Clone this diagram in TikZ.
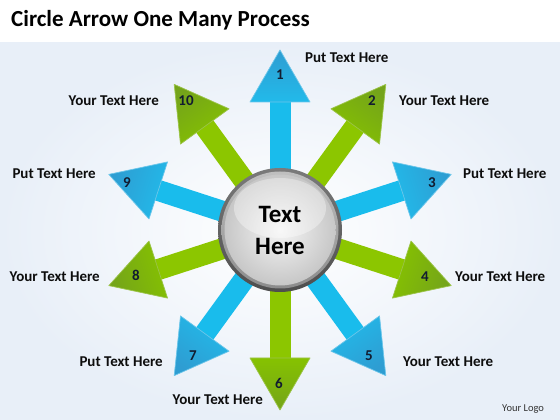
\documentclass[tikz,border=0pt]{standalone}
\usepackage{fontspec}
\setmainfont{Carlito}
\usetikzlibrary{calc,shadings}
\definecolor{cymd}{HTML}{19BCEC}
\definecolor{cylt}{HTML}{22BAEA}
\definecolor{cydk}{HTML}{2E9DD2}
\definecolor{cyln}{HTML}{6CC6EA}
\definecolor{grmd}{HTML}{8CC600}
\definecolor{grlt}{HTML}{86C200}
\definecolor{grdk}{HTML}{74A41A}
\definecolor{grln}{HTML}{9CC44A}
\definecolor{bgblue}{HTML}{E8EFF8}
\definecolor{numcol}{HTML}{121C30}
\definecolor{labelcol}{HTML}{0D0D0D}
\definecolor{ringdk}{HTML}{4E4E4E}
\definecolor{ringmd}{HTML}{7A7A7A}
\begin{document}
\begin{tikzpicture}[x=1pt,y=1pt,
  labeltext/.style={font=\bfseries\fontsize{15}{18}\selectfont, text=labelcol, inner sep=0pt},
  numtext/.style={font=\bfseries\fontsize{15}{18}\selectfont, text=numcol, inner sep=0pt},
]
\useasboundingbox (0,0) rectangle (560,420);
\fill[white] (0,0) rectangle (560,420);
\shade[inner color=white, outer color=bgblue] (0,0) rectangle (560,377);
\node[anchor=base west, font=\bfseries\fontsize{23}{28}\selectfont, inner sep=0pt] (title) at (11,393) {Circle Arrow One Many Process};
\coordinate (C) at (280,190);
% arrows
\foreach \k/\a/\c in {1/90/cy,2/54/gr,3/18/cy,4/-18/gr,5/-54/cy,6/-90/gr,7/-126/cy,8/-162/gr,9/162/cy,10/126/gr}{
  \pgfmathsetmacro\sa{\a-90}
  \coordinate (t\k) at ($(C)+(\a:180)$);
  \fill[\c md] ($(C)+(\a+90:10.5)$) -- ($(C)+(\a:130)+(\a+90:10.5)$) -- ($(C)+(\a:130)+(\a-90:10.5)$) -- ($(C)+(\a-90:10.5)$) -- cycle;
  \shade[top color=\c dk, bottom color=\c lt, shading angle=\sa, draw=\c ln, line width=0.7pt, line join=round]
    (t\k) -- ($(C)+(\a:128)+(\a+90:30)$) -- ($(C)+(\a:128)+(\a-90:30)$) -- cycle;
}
% hub
\shade[top color=ringmd, bottom color=ringdk] (C) circle (62);
\shade[top color=black!25, bottom color=black!45] (C) circle (58.5);
\shade[inner color=black!4, outer color=black!22] (C) circle (55.5);
\fill[white, opacity=0.35] ($(C)+(0,22)$) ellipse (46 and 30);
\node[font=\bfseries\fontsize{25}{32}\selectfont, align=center, text=black, inner sep=0pt] (hub) at (C) {Text\\Here};
% numbers
\node[numtext] (n1) at (280,345) {1};
\node[numtext] (n2) at (372,319) {2};
\node[numtext] (n3) at (432,237) {3};
\node[numtext] (n4) at (425,143) {4};
\node[numtext] (n5) at (369,64) {5};
\node[numtext] (n6) at (279,37) {6};
\node[numtext] (n7) at (193,64) {7};
\node[numtext] (n8) at (136,145) {8};
\node[numtext] (n9) at (127,237) {9};
\node[numtext] (n10) at (186,319) {10};
% labels
\node[labeltext, anchor=west] (l1) at (305,362) {Put Text Here};
\node[labeltext, anchor=west] (l2) at (399,319) {Your Text Here};
\node[labeltext, anchor=west] (l3) at (463,246) {Put Text Here};
\node[labeltext, anchor=west] (l4) at (455,143) {Your Text Here};
\node[labeltext, anchor=west] (l5) at (403,58) {Your Text Here};
\node[labeltext, anchor=east] (l6) at (263,20) {Your Text Here};
\node[labeltext, anchor=east] (l7) at (163,58) {Put Text Here};
\node[labeltext, anchor=east] (l8) at (100,143) {Your Text Here};
\node[labeltext, anchor=east] (l9) at (96,246) {Put Text Here};
\node[labeltext, anchor=east] (l10) at (159,319) {Your Text Here};
\node[anchor=base west, inner sep=0pt, font=\fontsize{10.5}{12}\selectfont, text=black!80] (logo) at (502,8) {Your Logo};
\end{tikzpicture}
\end{document}
